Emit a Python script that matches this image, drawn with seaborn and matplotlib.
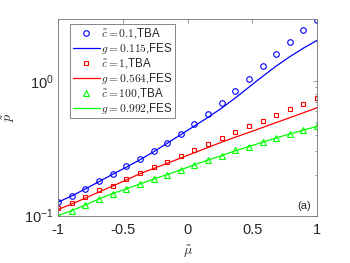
import numpy as np
import matplotlib
matplotlib.use("Agg")
import matplotlib.pyplot as plt
from matplotlib.ticker import NullFormatter, LogLocator
import seaborn as sns

# data
mu = np.linspace(-1, 1, 20)

tba_c01 = [0.126, 0.141, 0.159, 0.181, 0.205, 0.232, 0.263, 0.303, 0.349, 0.407,
           0.480, 0.570, 0.687, 0.843, 1.04, 1.30, 1.60, 1.97, 2.39, 2.86]
fes_g0115 = [0.126, 0.140, 0.158, 0.179, 0.203, 0.229, 0.260, 0.298, 0.345, 0.400,
             0.464, 0.538, 0.630, 0.750, 0.902, 1.084, 1.294, 1.52, 1.76, 2.01]

tba_c1 = [0.113, 0.124, 0.138, 0.154, 0.167, 0.187, 0.207, 0.231, 0.252, 0.278,
          0.308, 0.343, 0.378, 0.417, 0.462, 0.508, 0.560, 0.617, 0.675, 0.745]
fes_g0564 = [0.111, 0.122, 0.135, 0.150, 0.166, 0.184, 0.205, 0.224, 0.245, 0.268,
             0.294, 0.321, 0.352, 0.383, 0.416, 0.452, 0.492, 0.535, 0.582, 0.634]

tba_c100 = [0.100, 0.109, 0.120, 0.133, 0.146, 0.158, 0.172, 0.187, 0.202, 0.219,
            0.239, 0.259, 0.278, 0.305, 0.326, 0.353, 0.378, 0.405, 0.434, 0.461]
fes_g0992 = [0.100, 0.109, 0.120, 0.133, 0.146, 0.158, 0.172, 0.187, 0.202, 0.219,
             0.239, 0.259, 0.279, 0.304, 0.326, 0.352, 0.378, 0.405, 0.433, 0.460]

labels = [r"$\tilde{c}=0.1$,TBA", r"$g=0.115$,FES",
          r"$\tilde{c}=1$,TBA", r"$g=0.564$,FES",
          r"$\tilde{c}=100$,TBA", r"$g=0.992$,FES"]

sns.set_style("white")
plt.rcParams["font.family"] = ["Liberation Sans", "DejaVu Sans"]
plt.rcParams["mathtext.fontset"] = "cm"
plt.rcParams["axes.unicode_minus"] = False

fig = plt.figure(figsize=(3.5, 2.63), dpi=100)
ax = fig.add_axes([0.166, 0.179, 0.740, 0.749])

mk = dict(linestyle="", markerfacecolor="none", markeredgewidth=0.8)
sns.lineplot(x=mu, y=tba_c01, ax=ax, marker="o", markersize=4, markeredgecolor="blue",
             color="blue", label=labels[0], **mk)
sns.lineplot(x=mu, y=fes_g0115, ax=ax, color="blue", lw=0.9, label=labels[1])
sns.lineplot(x=mu, y=tba_c1, ax=ax, marker="s", markersize=3.2, markeredgecolor="red",
             color="red", label=labels[2], **mk)
sns.lineplot(x=mu, y=fes_g0564, ax=ax, color="red", lw=0.9, label=labels[3])
sns.lineplot(x=mu, y=tba_c100, ax=ax, marker="^", markersize=4, markeredgecolor="#00ff00",
             color="#00ff00", label=labels[4], **mk)
sns.lineplot(x=mu, y=fes_g0992, ax=ax, color="#00ff00", lw=0.9, label=labels[5])

ax.set_yscale("log")
ax.set_xlim(-1, 1)
ax.set_ylim(0.0995, 2.9)
ax.set_xticks([-1, -0.5, 0, 0.5, 1])
ax.set_xticklabels(["-1", "-0.5", "0", "0.5", "1"])
ax.yaxis.set_major_locator(LogLocator(base=10))
ax.yaxis.set_minor_locator(LogLocator(base=10, subs=np.arange(2, 10)))
ax.yaxis.set_minor_formatter(NullFormatter())

for s in ax.spines.values():
    s.set_visible(True)
    s.set_color("0.45")
    s.set_linewidth(0.6)
ax.tick_params(which="both", direction="in", top=True, right=True, color="0.45", width=0.5)
ax.tick_params(which="major", length=3, labelsize=10.5, colors="0.45", labelcolor="#262626")
ax.tick_params(which="minor", length=1.8)
ax.tick_params(axis="x", pad=5)
ax.tick_params(axis="y", pad=3)

ax.set_xlabel(r"$\tilde{\mu}$", fontsize=10, labelpad=5)
ax.set_ylabel(r"$\tilde{p}$", fontsize=10, labelpad=5)

ax.text(0.975, 0.05, "(a)", transform=ax.transAxes, ha="right", va="center", fontsize=8)

leg = ax.legend(loc="upper left", bbox_to_anchor=(0.047, 0.975), fontsize=8.3, frameon=True,
                fancybox=False, framealpha=1, edgecolor="0.45", handlelength=2.4,
                handletextpad=0.1, borderpad=0.2, labelspacing=0.05, borderaxespad=0)
leg.get_frame().set_linewidth(0.6)

plt.savefig("out.png", dpi=100)
